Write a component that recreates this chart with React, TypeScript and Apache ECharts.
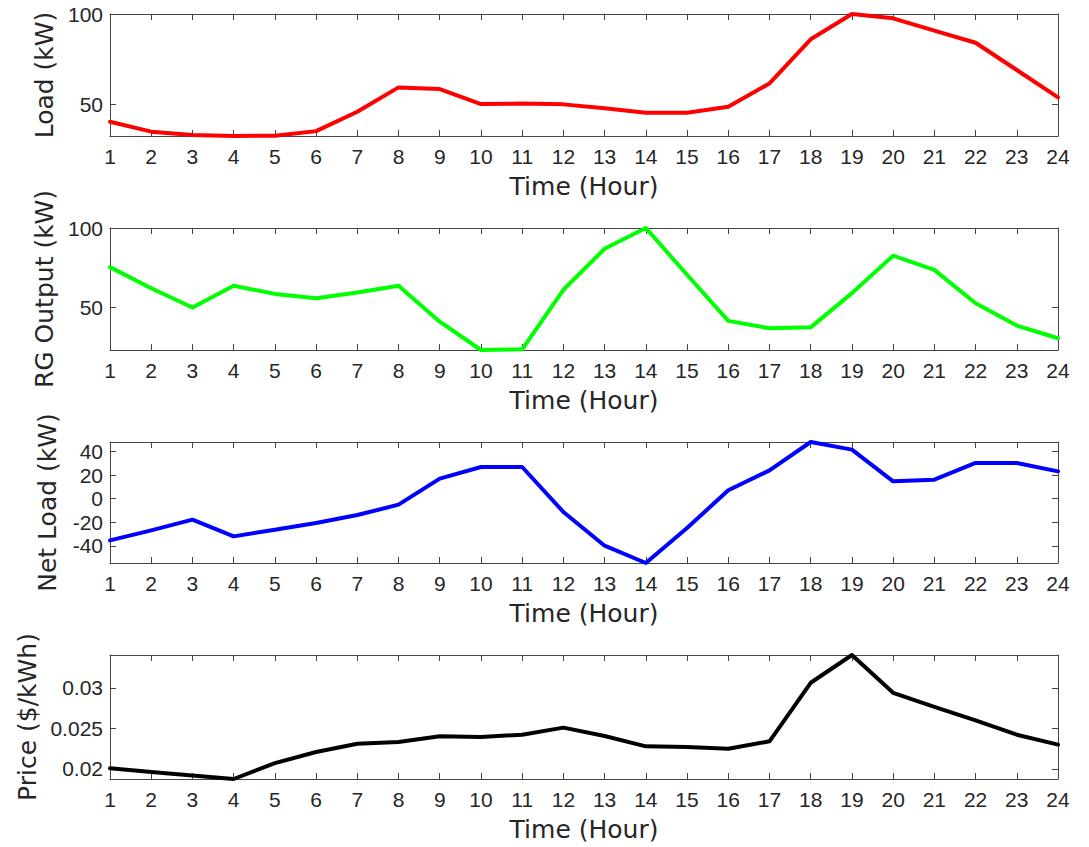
import React, { useEffect, useRef } from "react";
import * as echarts from "echarts";

const hours = [1, 2, 3, 4, 5, 6, 7, 8, 9, 10, 11, 12, 13, 14, 15, 16, 17, 18, 19, 20, 21, 22, 23, 24];

const loadKW = [40.4, 34.9, 33.0, 32.5, 32.7, 35.2, 45.9, 59.4, 58.5, 50.2, 50.5, 50.0, 47.8, 45.4, 45.4, 48.7, 61.6, 86.0, 100.0, 97.6, 90.8, 84.1, 69.0, 53.9];
const rgOutputKW = [75.3, 62.0, 49.8, 63.5, 58.4, 55.7, 59.3, 63.5, 40.9, 23.0, 23.4, 61.0, 86.9, 100.0, 70.5, 41.4, 36.7, 37.3, 58.9, 82.5, 73.6, 52.5, 38.4, 30.4];
const netLoadKW = [-35.4, -26.9, -17.8, -32.0, -26.3, -20.7, -13.9, -5.1, 17.0, 26.9, 26.9, -11.3, -39.9, -54.6, -24.9, 7.1, 24.0, 48.1, 41.6, 14.7, 16.1, 30.3, 30.3, 23.2];
const priceUSD = [0.02008, 0.01959, 0.01917, 0.01874, 0.0207, 0.02207, 0.0231, 0.02331, 0.02401, 0.02393, 0.02421, 0.02508, 0.02405, 0.02277, 0.02269, 0.02248, 0.02339, 0.03062, 0.03405, 0.02938, 0.02764, 0.02599, 0.02421, 0.02298];

const loadTicks = [50, 100];
const rgTicks = [50, 100];
const netTicks = [-40, -20, 0, 20, 40];
const priceTicks = [0.02, 0.025, 0.03];

const loadRange = [32.5, 100];
const rgRange = [23, 100];
const netRange = [-54.6, 48.1];
const priceRange = [0.01874, 0.03405];

const yTitles = ["Load (kW)", "RG Output (kW)", "Net Load (kW)", "Price ($/kWh)"];
const xTitle = "Time (Hour)";

export default function App() {
  const ref = useRef<HTMLDivElement>(null);
  useEffect(() => {
    if (!ref.current) return;
    const chart = echarts.init(ref.current, null, { renderer: "svg" });
    const panels = [
      { data: loadKW, ticks: loadTicks, range: loadRange, color: "#ff0000", top: 14, height: 122 },
      { data: rgOutputKW, ticks: rgTicks, range: rgRange, color: "#00ff00", top: 228, height: 122 },
      { data: netLoadKW, ticks: netTicks, range: netRange, color: "#0000ff", top: 442, height: 121 },
      { data: priceUSD, ticks: priceTicks, range: priceRange, color: "#000000", top: 655, height: 124 },
    ];
    const axisColor = "#444444";
    const textColor = "#262626";
    const tickFont = "Liberation Sans";
    const titleFont = "DejaVu Sans";
    const grids: any[] = [];
    const xAxes: any[] = [];
    const yAxes: any[] = [];
    const series: any[] = [];
    panels.forEach((p, i) => {
      grids.push({ left: 110, right: 31, top: p.top, height: p.height, containLabel: false });
      const xBase = {
        type: "value",
        gridIndex: i,
        min: 1,
        max: 24,
        interval: 1,
        splitLine: { show: false },
        axisLine: { show: true, onZero: false, lineStyle: { color: axisColor, width: 1 } },
        axisTick: { show: true, inside: true, length: 6, lineStyle: { color: axisColor } },
      };
      xAxes.push({
        ...xBase,
        position: "bottom",
        name: xTitle,
        nameLocation: "middle",
        nameGap: 38,
        nameTextStyle: { fontFamily: titleFont, fontSize: 25, color: textColor },
        axisLabel: { show: true, margin: 10, fontFamily: tickFont, fontSize: 21, color: textColor },
      });
      xAxes.push({ ...xBase, position: "top", axisLabel: { show: false } });
      const yBase = {
        type: "value",
        gridIndex: i,
        min: p.range[0],
        max: p.range[1],
        splitLine: { show: false },
        axisLine: { show: true, onZero: false, lineStyle: { color: axisColor, width: 1 } },
        axisTick: { show: true, inside: true, length: 6, customValues: p.ticks, lineStyle: { color: axisColor } },
      };
      yAxes.push({
        ...yBase,
        position: "left",
        name: yTitles[i],
        nameLocation: "middle",
        nameGap: 50,
        nameTextStyle: { fontFamily: titleFont, fontSize: 25, color: textColor },
        axisLabel: {
          show: true,
          margin: 7,
          customValues: p.ticks,
          fontFamily: tickFont,
          fontSize: 21,
          color: textColor,
          formatter: (v: number) => String(v),
        },
      });
      yAxes.push({ ...yBase, position: "right", axisLabel: { show: false } });
      series.push({
        type: "line",
        xAxisIndex: i * 2,
        yAxisIndex: i * 2,
        data: hours.map((h, k) => [h, p.data[k]]),
        showSymbol: false,
        symbol: "none",
        clip: false,
        lineStyle: { color: p.color, width: 4, join: "round", cap: "round" },
      });
    });
    chart.setOption({
      animation: false,
      backgroundColor: "#ffffff",
      grid: grids,
      xAxis: xAxes,
      yAxis: yAxes,
      series,
    });
    return () => chart.dispose();
  }, []);
  return (
    <div
      ref={ref}
      style={{ position: "fixed", left: 0, top: 0, width: 1089, height: 847, background: "#fff" }}
    />
  );
}
